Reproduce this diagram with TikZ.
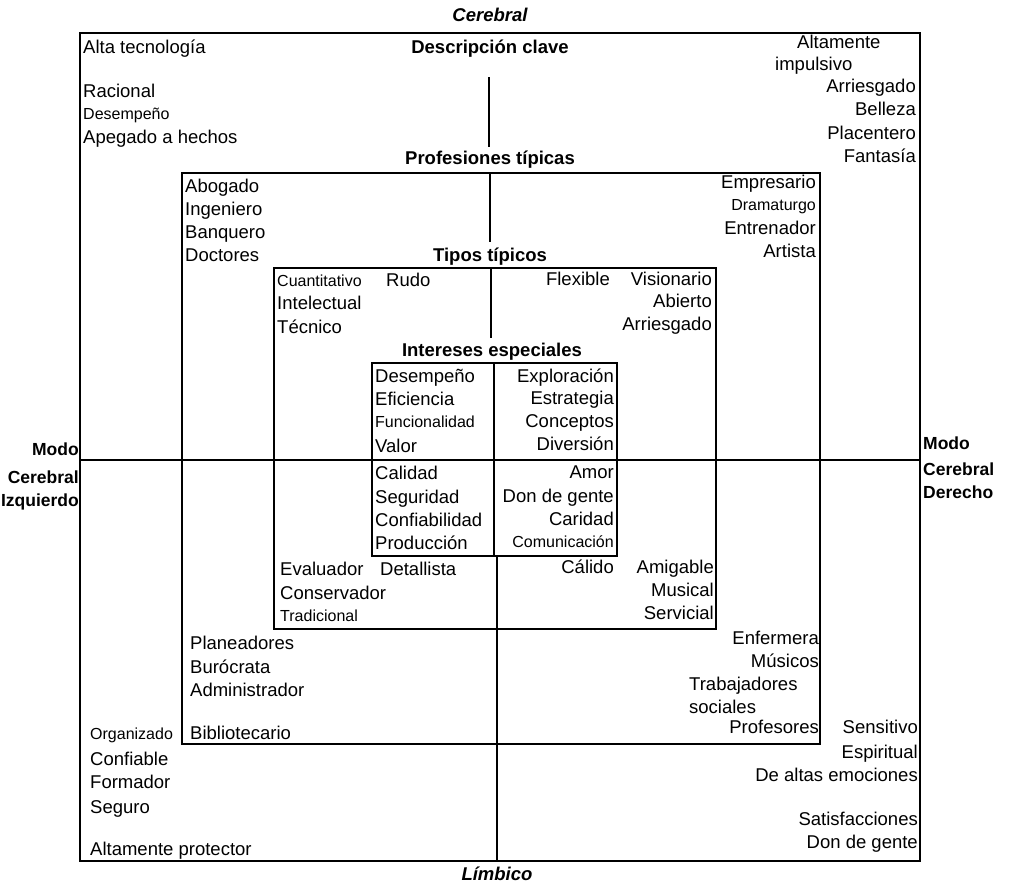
\documentclass[tikz,border=0pt]{standalone}
\usepackage{fontspec}
\setmainfont{Liberation Sans}
\newcommand{\fsN}{\fontsize{18.5}{22}\selectfont}
\newcommand{\fsS}{\fontsize{16}{20}\selectfont}
\newcommand{\fsB}{\fontsize{18.5}{22}\selectfont\bfseries}
\newcommand{\fsBI}{\fontsize{18.5}{22}\selectfont\bfseries\itshape}
\newcommand{\fsM}{\fontsize{17.5}{21}\selectfont\bfseries}
\tikzset{
 txt/.style={inner sep=0pt, text height=14pt, text depth=2pt, font=\fsN},
 L/.style={txt, anchor=west},
 R/.style={txt, anchor=east},
 sm/.style={font=\fsS},
 head/.style={txt, font=\fsB, anchor=center},
 headit/.style={txt, font=\fsBI, anchor=center},
 side/.style={font=\fsM},
 outerbox/.style={line width=1.8pt},
 box/.style={line width=1.4pt},
 axis/.style={line width=2pt},
}
\begin{document}
\begin{tikzpicture}[x=1pt,y=-1pt]
\useasboundingbox (0,0) rectangle (1014,886);
% boxes
\draw[outerbox] (80,33) rectangle (920,861);
\draw[box] (182,173) rectangle (820,744);
\draw[box] (274,268) rectangle (716,629);
\draw[box] (372,363) rectangle (617,556);
% axes
\coordinate (hl) at (80,460);
\coordinate (hr) at (920,460);
\draw[axis] (hl) -- (hr);
\coordinate (v1a) at (489,77);  \coordinate (v1b) at (489,147);
\coordinate (v2a) at (490,173); \coordinate (v2b) at (490,242);
\coordinate (v3a) at (491,268); \coordinate (v3b) at (491,338);
\coordinate (v4a) at (494,363); \coordinate (v4b) at (494,556);
\coordinate (v5a) at (497,556); \coordinate (v5b) at (497,861);
\draw[axis] (v1a) -- (v1b);
\draw[axis] (v2a) -- (v2b);
\draw[axis] (v3a) -- (v3b);
\draw[box] (v4a) -- (v4b);
\draw[axis] (v5a) -- (v5b);
% headings
\node[headit] (cereb) at (490,15) {Cerebral};
\node[headit] (limb) at (497,874) {Límbico};
\node[head] (hdesc) at (490,47) {Descripción clave};
\node[head] (hprof) at (490,158) {Profesiones típicas};
\node[head] (htip) at (490,255) {Tipos típicos};
\node[head] (hint) at (492,350) {Intereses especiales};
% side labels
\node[R,side] (lm1) at (79,449) {Modo};
\node[R,side] (lm2) at (79,477) {Cerebral};
\node[R,side] (lm3) at (79,500) {Izquierdo};
\node[L,side] (rm1) at (923,443) {Modo};
\node[L,side] (rm2) at (923,469) {Cerebral};
\node[L,side] (rm3) at (923,492) {Derecho};
% outer top-left
\node[L] (o1) at (83,47) {Alta tecnología};
\node[L] (o2) at (83,91) {Racional};
\node[L,sm] (o3) at (83,113) {Desempeño};
\node[L] (o4) at (83,137) {Apegado a hechos};
% outer top-right
\node[L] (o5) at (797,42) {Altamente};
\node[L] (o6) at (775,64) {impulsivo};
\node[R] (o7) at (916,86) {Arriesgado};
\node[R] (o8) at (916,109) {Belleza};
\node[R] (o9) at (916,133) {Placentero};
\node[R] (o10) at (916,156) {Fantasía};
% profesiones top
\node[L] (p1) at (185,186) {Abogado};
\node[L] (p2) at (185,209) {Ingeniero};
\node[L] (p3) at (185,232) {Banquero};
\node[L] (p4) at (185,255) {Doctores};
\node[R] (p5) at (816,182) {Empresario};
\node[R,sm] (p6) at (816,204) {Dramaturgo};
\node[R] (p7) at (816,228) {Entrenador};
\node[R] (p8) at (816,251) {Artista};
% tipos top
\node[L,sm] (t1) at (277,280) {Cuantitativo};
\node[L] (t2) at (386,280) {Rudo};
\node[L] (t3) at (277,303) {Intelectual};
\node[L] (t4) at (277,327) {Técnico};
\node[R] (t5) at (610,279) {Flexible};
\node[R] (t6) at (712,279) {Visionario};
\node[R] (t7) at (712,301) {Abierto};
\node[R] (t8) at (712,324) {Arriesgado};
% intereses
\node[L] (i1) at (375,376) {Desempeño};
\node[L] (i2) at (375,399) {Eficiencia};
\node[L,sm] (i3) at (375,421) {Funcionalidad};
\node[L] (i4) at (375,446) {Valor};
\node[L] (i5) at (375,473) {Calidad};
\node[L] (i6) at (375,497) {Seguridad};
\node[L] (i7) at (375,520) {Confiabilidad};
\node[L] (i8) at (375,543) {Producción};
\node[R] (i9) at (614,376) {Exploración};
\node[R] (i10) at (614,398) {Estrategia};
\node[R] (i11) at (614,421) {Conceptos};
\node[R] (i12) at (614,444) {Diversión};
\node[R] (i13) at (614,472) {Amor};
\node[R] (i14) at (614,496) {Don de gente};
\node[R] (i15) at (614,519) {Caridad};
\node[R,sm] (i16) at (614,541) {Comunicación};
% tipos bottom
\node[L] (t9) at (280,569) {Evaluador};
\node[L] (t10) at (380,569) {Detallista};
\node[L] (t11) at (280,593) {Conservador};
\node[L,sm] (t12) at (280,615) {Tradicional};
\node[R] (t13) at (614,567) {Cálido};
\node[R] (t14) at (714,567) {Amigable};
\node[R] (t15) at (714,590) {Musical};
\node[R] (t16) at (714,613) {Servicial};
% profesiones bottom
\node[L] (p9) at (190,643) {Planeadores};
\node[L] (p10) at (190,667) {Burócrata};
\node[L] (p11) at (190,690) {Administrador};
\node[L] (p12) at (190,733) {Bibliotecario};
\node[R] (p13) at (819,638) {Enfermera};
\node[R] (p14) at (819,661) {Músicos};
\node[L] (p15) at (689,684) {Trabajadores};
\node[L] (p16) at (689,707) {sociales};
\node[R] (p17) at (819,727) {Profesores};
% outer bottom
\node[L,sm] (o11) at (90,733) {Organizado};
\node[L] (o12) at (90,759) {Confiable};
\node[L] (o13) at (90,782) {Formador};
\node[L] (o14) at (90,807) {Seguro};
\node[L] (o15) at (90,849) {Altamente protector};
\node[R] (o16) at (918,727) {Sensitivo};
\node[R] (o17) at (918,752) {Espiritual};
\node[R] (o18) at (918,775) {De altas emociones};
\node[R] (o19) at (918,819) {Satisfacciones};
\node[R] (o20) at (918,842) {Don de gente};
\end{tikzpicture}
\end{document}
